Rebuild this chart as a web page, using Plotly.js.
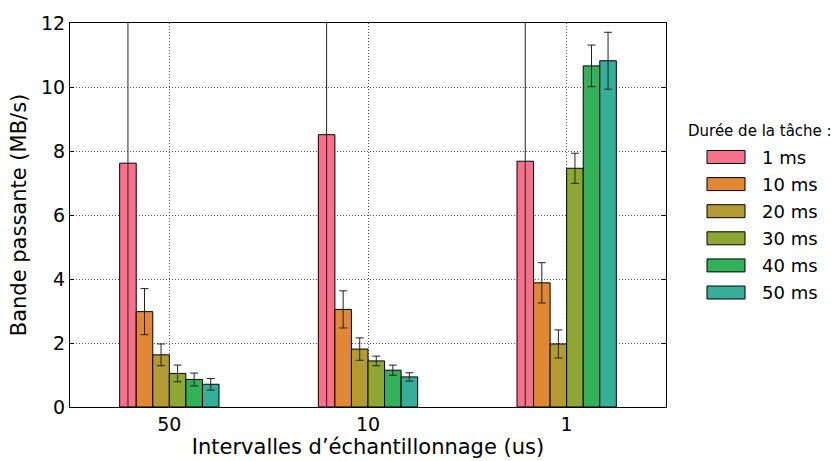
<!DOCTYPE html>
<html><head><meta charset="utf-8">
<script src="https://cdn.plot.ly/plotly-3.0.1.min.js"></script>
<style>html,body{margin:0;padding:0;background:#fff}#chart{width:837px;height:461px}</style>
</head><body><div id="chart"></div>
<script>
const categories = ["50", "10", "1"];
const seriesNames = ["1 ms", "10 ms", "20 ms", "30 ms", "40 ms", "50 ms"];
const colors = ["#f7718a", "#e08835", "#b49a32", "#8ea633", "#33b15a", "#37ae98"];
const v1ms  = [7.62, 8.51, 7.68];
const v10ms = [2.98, 3.05, 3.88];
const v20ms = [1.63, 1.81, 1.97];
const v30ms = [1.05, 1.44, 7.46];
const v40ms = [0.86, 1.15, 10.66];
const v50ms = [0.71, 0.94, 10.82];
const e1ms  = [9.0, 9.0, 9.0];
const e10ms = [0.72, 0.58, 0.63];
const e20ms = [0.34, 0.35, 0.44];
const e30ms = [0.26, 0.15, 0.47];
const e40ms = [0.20, 0.16, 0.65];
const e50ms = [0.18, 0.13, 0.89];
const legendTitle = "Durée de la tâche :";
const values = [v1ms, v10ms, v20ms, v30ms, v40ms, v50ms];
const errors = [e1ms, e10ms, e20ms, e30ms, e40ms, e50ms];

const font = "DejaVu Sans, sans-serif";
const traces = seriesNames.map((n, i) => ({
  type: "bar", name: n, x: categories, y: values[i], showlegend: false,
  marker: {color: colors[i], line: {color: "#000", width: 1}},
  error_y: {type: "data", array: errors[i], visible: true, color: "#222", thickness: 1, width: 4}
}));

// Hand-built legend (wide swatches like the reference), placed in paper coordinates
const W = 837, H = 461, mL = 70, mR = 171, mT = 23, mB = 54;
const pw = W - mL - mR, ph = H - mT - mB;
const px = x => (x - mL) / pw;
const py = y => (H - mB - y) / ph;
const shapes = [], annotations = [];
annotations.push({xref: "paper", yref: "paper", x: px(686), y: py(131), xanchor: "left", yanchor: "middle",
  text: legendTitle, showarrow: false, font: {size: 15, family: font, color: "#000"}});
seriesNames.forEach((n, i) => {
  const cy = 157 + i * 27.1;
  shapes.push({type: "rect", xref: "paper", yref: "paper", x0: px(707), x1: px(745), y0: py(cy - 6.5), y1: py(cy + 6.5),
    fillcolor: colors[i], line: {color: "#000", width: 1}});
  annotations.push({xref: "paper", yref: "paper", x: px(760), y: py(cy), xanchor: "left", yanchor: "middle",
    text: n, showarrow: false, font: {size: 18, family: font, color: "#000"}});
});

const layout = {
  width: W, height: H,
  margin: {l: mL, r: mR, t: mT, b: mB},
  paper_bgcolor: "#fff", plot_bgcolor: "#fff",
  barmode: "group", bargap: 0.5, bargroupgap: 0,
  font: {family: font, color: "#000"},
  xaxis: {
    type: "category", range: [-0.5, 2.5],
    showline: true, linecolor: "#000", linewidth: 1, mirror: true,
    showgrid: true, gridcolor: "#555", griddash: "1px,2px", gridwidth: 1,
    ticks: "", tickfont: {size: 19, family: font},
    title: {text: "Intervalles d’échantillonnage (us)", font: {size: 21, family: font}, standoff: 4}
  },
  yaxis: {
    range: [0, 12], dtick: 2,
    showline: true, linecolor: "#000", linewidth: 1, mirror: "ticks",
    showgrid: true, gridcolor: "#555", griddash: "1px,2px", gridwidth: 1,
    zeroline: false,
    ticks: "inside", ticklen: 4, tickcolor: "#000",
    tickfont: {size: 19, family: font},
    title: {text: "Bande passante (MB/s)", font: {size: 21, family: font}, standoff: 8}
  },
  showlegend: false,
  shapes: shapes,
  annotations: annotations
};
Plotly.newPlot("chart", traces, layout, {displayModeBar: false, staticPlot: true});
</script></body></html>
